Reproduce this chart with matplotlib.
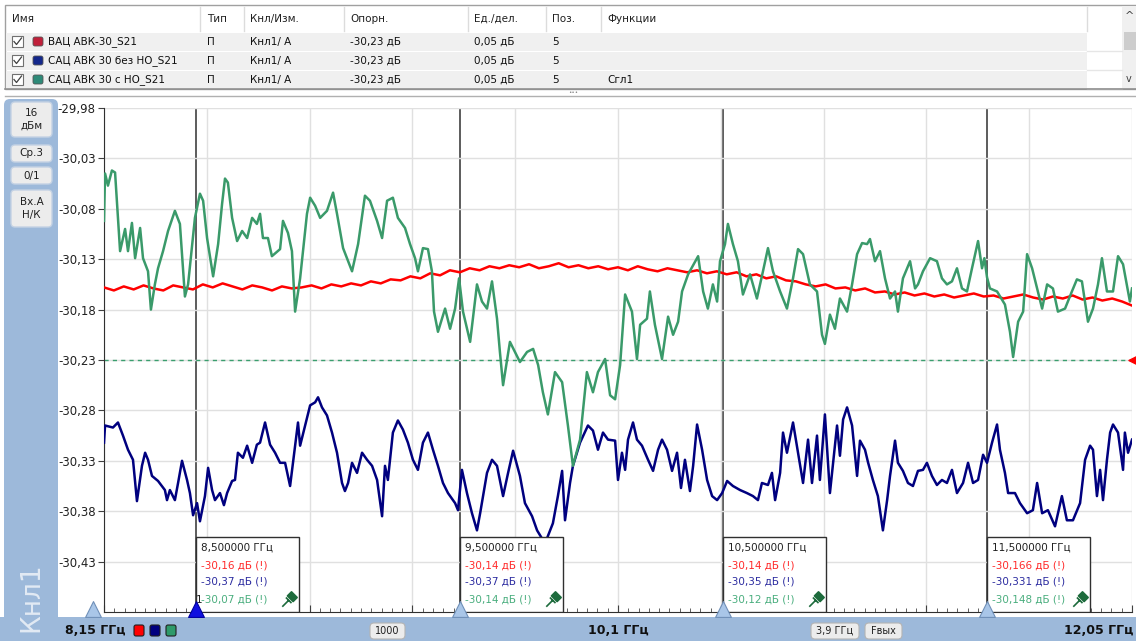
import numpy as np
import matplotlib
matplotlib.use("Agg")
import matplotlib.pyplot as plt
from matplotlib.patches import Rectangle, FancyBboxPatch
from matplotlib.path import Path
from matplotlib.transforms import offset_copy

W, H = 1136, 641

# --- данные ---
trace_names = ["ВАЦ АВК-30_S21", "САЦ АВК 30 без НО_S21", "САЦ АВК 30 с НО_S21"]
trace_funcs = ["", "", "Сгл1"]
ref_level = -30.23

# красная (ВАЦ) – равномерная сетка 8,15..12,05 ГГц
red_db = [
    -30.158, -30.161, -30.157, -30.160, -30.156, -30.159, -30.161, -30.156, -30.158, -30.160,
    -30.155, -30.158, -30.154, -30.157, -30.160, -30.156, -30.158, -30.161, -30.157, -30.159,
    -30.158, -30.156, -30.159, -30.155, -30.157, -30.154, -30.156, -30.152, -30.154, -30.150,
    -30.151, -30.147, -30.149, -30.144, -30.146, -30.141, -30.143, -30.139, -30.141, -30.137,
    -30.139, -30.136, -30.138, -30.135, -30.139, -30.137, -30.134, -30.138, -30.136, -30.139,
    -30.137, -30.140, -30.138, -30.141, -30.137, -30.140, -30.142, -30.139, -30.141, -30.143,
    -30.141, -30.144, -30.142, -30.145, -30.143, -30.147, -30.145, -30.149, -30.147, -30.151,
    -30.152, -30.155, -30.157, -30.155, -30.159, -30.158, -30.161, -30.159, -30.163, -30.162,
    -30.165, -30.163, -30.166, -30.164, -30.167, -30.165, -30.168, -30.166, -30.164, -30.167,
    -30.166, -30.169, -30.167, -30.165, -30.168, -30.170, -30.167, -30.169, -30.166, -30.170,
    -30.168, -30.171, -30.169, -30.172, -30.176,
]

# синяя (САЦ без НО)
blue_f = [
    8.150, 8.154, 8.184, 8.203, 8.222, 8.241, 8.260, 8.275, 8.294, 8.306,
    8.317, 8.332, 8.355, 8.381, 8.389, 8.400, 8.419, 8.431, 8.446, 8.465,
    8.476, 8.488, 8.503, 8.514, 8.533, 8.545, 8.560, 8.571, 8.590, 8.605,
    8.617, 8.636, 8.647, 8.658, 8.677, 8.693, 8.712, 8.730, 8.742, 8.761,
    8.780, 8.799, 8.818, 8.837, 8.856, 8.867, 8.886, 8.894, 8.913, 8.932,
    8.951, 8.962, 8.977, 8.996, 9.015, 9.034, 9.053, 9.064, 9.076, 9.091,
    9.110, 9.129, 9.148, 9.167, 9.186, 9.205, 9.216, 9.227, 9.246, 9.265,
    9.284, 9.303, 9.322, 9.341, 9.360, 9.379, 9.398, 9.417, 9.436, 9.455,
    9.482, 9.493, 9.508, 9.527, 9.546, 9.565, 9.577, 9.603, 9.622, 9.641,
    9.664, 9.683, 9.702, 9.728, 9.747, 9.774, 9.793, 9.823, 9.853, 9.872,
    9.888, 9.899, 9.918, 9.929, 9.956, 9.986, 10.005, 10.024, 10.043, 10.062,
    10.089, 10.100, 10.115, 10.127, 10.138, 10.157, 10.172, 10.191, 10.214, 10.233,
    10.252, 10.267, 10.286, 10.305, 10.324, 10.339, 10.354, 10.373, 10.385, 10.400,
    10.419, 10.438, 10.457, 10.476, 10.495, 10.514, 10.536, 10.563, 10.589, 10.612,
    10.631, 10.646, 10.669, 10.684, 10.696, 10.715, 10.726, 10.741, 10.764, 10.783,
    10.802, 10.821, 10.836, 10.855, 10.866, 10.885, 10.904, 10.931, 10.942, 10.954,
    10.969, 10.988, 11.007, 11.018, 11.037, 11.049, 11.067, 11.086, 11.105, 11.121,
    11.132, 11.151, 11.162, 11.181, 11.200, 11.219, 11.238, 11.257, 11.272, 11.291,
    11.310, 11.329, 11.348, 11.367, 11.386, 11.409, 11.428, 11.447, 11.466, 11.485,
    11.500, 11.519, 11.538, 11.549, 11.568, 11.580, 11.606, 11.625, 11.652, 11.674,
    11.690, 11.709, 11.731, 11.758, 11.784, 11.803, 11.826, 11.853, 11.872, 11.891,
    11.902, 11.917, 11.929, 11.940, 11.955, 11.967, 11.978, 11.997, 12.016, 12.023,
    12.035, 12.050,
]
blue_db = [
    -30.312, -30.295, -30.297, -30.292, -30.305, -30.319, -30.329, -30.370, -30.335, -30.322,
    -30.329, -30.345, -30.350, -30.359, -30.369, -30.359, -30.369, -30.352, -30.330, -30.349,
    -30.362, -30.384, -30.372, -30.390, -30.365, -30.337, -30.359, -30.369, -30.362, -30.374,
    -30.362, -30.350, -30.349, -30.322, -30.327, -30.315, -30.332, -30.314, -30.312, -30.292,
    -30.314, -30.322, -30.332, -30.332, -30.355, -30.332, -30.292, -30.315, -30.295, -30.275,
    -30.272, -30.267, -30.277, -30.285, -30.302, -30.322, -30.352, -30.360, -30.352, -30.332,
    -30.342, -30.322, -30.329, -30.335, -30.349, -30.385, -30.335, -30.349, -30.302, -30.290,
    -30.299, -30.312, -30.329, -30.339, -30.312, -30.302, -30.319, -30.335, -30.352, -30.362,
    -30.372, -30.379, -30.339, -30.362, -30.382, -30.399, -30.382, -30.342, -30.329, -30.335,
    -30.365, -30.342, -30.320, -30.345, -30.372, -30.385, -30.399, -30.412, -30.392, -30.365,
    -30.340, -30.389, -30.352, -30.335, -30.312, -30.295, -30.300, -30.319, -30.302, -30.309,
    -30.310, -30.349, -30.322, -30.339, -30.309, -30.292, -30.309, -30.315, -30.329, -30.340,
    -30.319, -30.309, -30.319, -30.340, -30.322, -30.357, -30.329, -30.360, -30.335, -30.294,
    -30.319, -30.349, -30.365, -30.369, -30.362, -30.350, -30.355, -30.359, -30.362, -30.365,
    -30.369, -30.352, -30.354, -30.342, -30.369, -30.342, -30.302, -30.322, -30.292, -30.322,
    -30.352, -30.309, -30.352, -30.305, -30.349, -30.284, -30.362, -30.295, -30.325, -30.289,
    -30.277, -30.295, -30.345, -30.310, -30.319, -30.332, -30.349, -30.365, -30.399, -30.369,
    -30.345, -30.310, -30.332, -30.340, -30.352, -30.355, -30.340, -30.339, -30.332, -30.345,
    -30.354, -30.349, -30.352, -30.339, -30.362, -30.352, -30.332, -30.352, -30.349, -30.324,
    -30.332, -30.312, -30.294, -30.319, -30.342, -30.362, -30.362, -30.372, -30.382, -30.379,
    -30.352, -30.382, -30.379, -30.395, -30.365, -30.389, -30.389, -30.372, -30.329, -30.315,
    -30.319, -30.365, -30.339, -30.369, -30.329, -30.302, -30.294, -30.302, -30.339, -30.302,
    -30.322, -30.309,
]

# зелёная (САЦ с НО)
green_f = [
    8.150, 8.154, 8.165, 8.180, 8.192, 8.203, 8.211, 8.230, 8.241, 8.256,
    8.268, 8.287, 8.298, 8.317, 8.328, 8.343, 8.355, 8.374, 8.393, 8.419,
    8.438, 8.457, 8.469, 8.495, 8.514, 8.526, 8.541, 8.564, 8.583, 8.598,
    8.609, 8.620, 8.636, 8.655, 8.674, 8.693, 8.712, 8.730, 8.742, 8.753,
    8.772, 8.787, 8.818, 8.829, 8.848, 8.863, 8.875, 8.894, 8.905, 8.920,
    8.932, 8.951, 8.970, 8.996, 9.019, 9.034, 9.057, 9.091, 9.114, 9.140,
    9.159, 9.186, 9.205, 9.224, 9.246, 9.265, 9.292, 9.311, 9.330, 9.341,
    9.360, 9.379, 9.394, 9.402, 9.417, 9.444, 9.463, 9.482, 9.497, 9.512,
    9.539, 9.565, 9.584, 9.603, 9.622, 9.641, 9.652, 9.664, 9.690, 9.728,
    9.755, 9.778, 9.797, 9.815, 9.834, 9.861, 9.888, 9.910, 9.929, 9.956,
    9.982, 10.005, 10.024, 10.051, 10.070, 10.089, 10.108, 10.127, 10.153, 10.172,
    10.184, 10.210, 10.221, 10.240, 10.267, 10.290, 10.309, 10.328, 10.343, 10.366,
    10.404, 10.423, 10.441, 10.460, 10.476, 10.487, 10.506, 10.517, 10.536, 10.555,
    10.574, 10.601, 10.627, 10.650, 10.669, 10.688, 10.715, 10.741, 10.764, 10.783,
    10.802, 10.828, 10.855, 10.874, 10.885, 10.904, 10.923, 10.942, 10.969, 10.988,
    11.007, 11.026, 11.045, 11.056, 11.075, 11.094, 11.113, 11.132, 11.151, 11.162,
    11.181, 11.208, 11.227, 11.238, 11.257, 11.284, 11.310, 11.329, 11.348, 11.367,
    11.386, 11.405, 11.424, 11.443, 11.466, 11.481, 11.490, 11.500, 11.511, 11.538,
    11.568, 11.587, 11.599, 11.618, 11.637, 11.652, 11.671, 11.690, 11.709, 11.728,
    11.750, 11.769, 11.796, 11.822, 11.841, 11.860, 11.883, 11.902, 11.921, 11.936,
    11.955, 11.978, 11.997, 12.016, 12.042, 12.050,
]
green_db = [
    -30.092, -30.045, -30.057, -30.042, -30.044, -30.089, -30.122, -30.100, -30.122, -30.094,
    -30.129, -30.099, -30.129, -30.142, -30.180, -30.155, -30.139, -30.122, -30.102, -30.082,
    -30.095, -30.167, -30.155, -30.089, -30.065, -30.072, -30.109, -30.147, -30.115, -30.075,
    -30.050, -30.054, -30.089, -30.112, -30.102, -30.109, -30.089, -30.095, -30.085, -30.109,
    -30.109, -30.127, -30.120, -30.092, -30.104, -30.122, -30.182, -30.149, -30.122, -30.085,
    -30.069, -30.077, -30.089, -30.082, -30.064, -30.085, -30.119, -30.142, -30.115, -30.067,
    -30.072, -30.092, -30.109, -30.072, -30.069, -30.089, -30.099, -30.115, -30.129, -30.142,
    -30.119, -30.120, -30.142, -30.182, -30.202, -30.179, -30.199, -30.179, -30.149, -30.182,
    -30.212, -30.155, -30.172, -30.179, -30.152, -30.189, -30.222, -30.255, -30.212, -30.232,
    -30.222, -30.219, -30.235, -30.262, -30.284, -30.242, -30.252, -30.295, -30.335, -30.309,
    -30.242, -30.262, -30.242, -30.229, -30.265, -30.269, -30.235, -30.165, -30.182, -30.229,
    -30.195, -30.189, -30.162, -30.195, -30.229, -30.187, -30.205, -30.192, -30.162, -30.145,
    -30.127, -30.162, -30.179, -30.155, -30.172, -30.132, -30.115, -30.095, -30.115, -30.132,
    -30.165, -30.145, -30.169, -30.142, -30.119, -30.142, -30.162, -30.179, -30.149, -30.120,
    -30.125, -30.155, -30.162, -30.205, -30.214, -30.185, -30.199, -30.169, -30.182, -30.155,
    -30.125, -30.114, -30.115, -30.110, -30.132, -30.122, -30.149, -30.169, -30.162, -30.182,
    -30.149, -30.132, -30.159, -30.155, -30.142, -30.129, -30.132, -30.149, -30.155, -30.152,
    -30.139, -30.159, -30.162, -30.139, -30.112, -30.139, -30.129, -30.148, -30.159, -30.162,
    -30.175, -30.202, -30.227, -30.192, -30.182, -30.125, -30.139, -30.159, -30.179, -30.155,
    -30.159, -30.182, -30.179, -30.162, -30.150, -30.152, -30.192, -30.179, -30.155, -30.129,
    -30.162, -30.162, -30.127, -30.135, -30.172, -30.159,
]

# маркеры
marker_f = [8.5, 9.5, 10.5, 11.5]
marker_freq_txt = ["8,500000 ГГц", "9,500000 ГГц", "10,500000 ГГц", "11,500000 ГГц"]
marker_red = ["-30,16", "-30,14", "-30,14", "-30,166"]
marker_blue = ["-30,37", "-30,37", "-30,35", "-30,331"]
marker_green = ["-30,07", "-30,14", "-30,12", "-30,148"]

RED = "#ff0000"
BLUE = "#00007f"
GREEN = "#3a9a6a"
PANEL = "#9db9da"
FONT = "DejaVu Sans"

plt.rcParams["font.family"] = [FONT]

fig = plt.figure(figsize=(W / 100, H / 100), dpi=100)
fig.patch.set_facecolor("white")

# фон в пиксельных координатах
bg = fig.add_axes([0, 0, 1, 1], zorder=0)
bg.set_xlim(0, W)
bg.set_ylim(H, 0)
bg.axis("off")

# --- таблица трасс ---
bg.add_patch(Rectangle((5, 5), 1131, 84, facecolor="white", edgecolor="#a0a0a0", lw=1))
headers = [("Имя", 12), ("Тип", 207), ("Кнл/Изм.", 250), ("Опорн.", 350),
           ("Ед./дел.", 474), ("Поз.", 552), ("Функции", 607)]
for txt, x in headers:
    bg.text(x, 19, txt, fontsize=7.5, va="center", ha="left", color="#202020")
for x in [200, 244, 344, 468, 546, 601, 1087]:
    bg.plot([x, x], [7, 31], color="#dcdcdc", lw=1)
row_colors = ["#c0203a", "#14288c", "#2e8a78"]
for i, name in enumerate(trace_names):
    y0 = 33 + i * 19
    bg.add_patch(Rectangle((6, y0), 1081, 18, facecolor="#f0f0f0", edgecolor="none"))
    bg.plot([1087, 1122], [y0 + 18, y0 + 18], color="#e6e6e6", lw=1)
    bg.add_patch(Rectangle((12, y0 + 3), 11, 11, facecolor="white", edgecolor="#707070", lw=0.8))
    bg.plot([14, 16.5, 21.5], [y0 + 8.5, y0 + 11.5, y0 + 5], color="#404040", lw=0.9)
    bg.add_patch(FancyBboxPatch((33, y0 + 4), 10, 9, boxstyle="round,pad=0,rounding_size=2",
                                facecolor=row_colors[i], edgecolor="#555555", lw=0.6))
    y = y0 + 9
    bg.text(48, y, name, fontsize=7.5, va="center", color="#101010")
    bg.text(207, y, "П", fontsize=7.5, va="center", color="#101010")
    bg.text(250, y, "Кнл1/ А", fontsize=7.5, va="center", color="#101010")
    bg.text(350, y, "-30,23 дБ", fontsize=7.5, va="center", color="#101010")
    bg.text(474, y, "0,05 дБ", fontsize=7.5, va="center", color="#101010")
    bg.text(552, y, "5", fontsize=7.5, va="center", color="#101010")
    bg.text(607, y, trace_funcs[i], fontsize=7.5, va="center", color="#101010")
# полоса прокрутки
bg.add_patch(Rectangle((1122, 6), 14, 82, facecolor="#f0f0f0", edgecolor="none"))
bg.add_patch(Rectangle((1124, 32), 12, 18, facecolor="#cdcdcd", edgecolor="none"))
bg.text(1129, 16, "^", fontsize=8, ha="center", va="center", color="#404040")
bg.text(1129, 79, "v", fontsize=7, ha="center", va="center", color="#404040")
bg.plot([5, W], [89, 89], color="#909090", lw=1.2)
bg.plot([5, W], [96, 96], color="#b0b0b0", lw=1)
bg.text(573, 92.5, "•••", fontsize=4, ha="center", va="center", color="#808080")

# --- панель канала ---
bg.add_patch(FancyBboxPatch((4, 99), 54, 560, boxstyle="round,pad=0,rounding_size=6",
                            facecolor=PANEL, edgecolor="none"))
bg.add_patch(Rectangle((0, 617), W, 24, facecolor=PANEL, edgecolor="none"))
bg.add_patch(Rectangle((60, 98), W - 60, 519, facecolor="white", edgecolor="none"))

buttons = [(102, 35, "16\nдБм"), (145, 17, "Ср.3"), (167, 17, "0/1"), (190, 37, "Вх.А\nН/К")]
for y0, h, txt in buttons:
    bg.add_patch(FancyBboxPatch((11, y0), 41, h, boxstyle="round,pad=0,rounding_size=4",
                                facecolor="#ececec", edgecolor="#c4d2e4", lw=1))
    bg.text(31.5, y0 + h / 2, txt, fontsize=7.5, ha="center", va="center",
            color="#202020", linespacing=1.4)
bg.text(31, 597, "Кнл1", rotation=90, fontsize=19, ha="center", va="center", color="#e2eaf4")

# --- нижняя строка ---
bg.text(65, 631, "8,15 ГГц", fontsize=9, fontweight="bold", va="center", color="#101010")
for k, c in enumerate([RED, BLUE, "#2e9a6a"]):
    bg.add_patch(FancyBboxPatch((134 + k * 16, 625), 10, 11, boxstyle="round,pad=0,rounding_size=2",
                                facecolor=c, edgecolor="#202020", lw=0.8))
bg.text(618, 631, "10,1 ГГц", fontsize=9, fontweight="bold", ha="center", va="center", color="#101010")
bg.text(1133, 631, "12,05 ГГц", fontsize=9, fontweight="bold", ha="right", va="center", color="#101010")
for x0, w, txt in [(370, 35, "1000"), (811, 48, "3,9 ГГц"), (865, 37, "Fвых")]:
    bg.add_patch(FancyBboxPatch((x0, 623), w, 16, boxstyle="round,pad=0,rounding_size=4",
                                facecolor="#ececec", edgecolor="#b4b4b4", lw=0.8))
    bg.text(x0 + w / 2, 631, txt, fontsize=7, ha="center", va="center", color="#202020")
bg.scatter([93], [609], marker="^", s=130, facecolor="#a9c6e8", edgecolor="#7090b8", lw=0.8, zorder=5)

# --- график ---
ax = fig.add_axes([104 / W, (H - 612) / H, 1028 / W, 504 / H], zorder=2)
ax.patch.set_alpha(0)
x0, x1 = 8.15, 12.05
y0, y1 = -30.48, -29.98
ax.set_xlim(x0, x1)
ax.set_ylim(y0, y1)

xdiv = np.linspace(x0, x1, 11)
ydiv = np.linspace(y0, y1, 11)
ax.set_xticks(xdiv)
ax.set_xticks(np.linspace(x0, x1, 101), minor=True)
ax.set_yticks(ydiv[1:])
ax.set_yticklabels([f"{v:.2f}".replace(".", ",") for v in ydiv[1:]])
ax.set_xticklabels([])
ax.grid(True, which="major", color="#e0e0e0", lw=1)
ax.tick_params(axis="y", direction="out", length=4, width=0.8, color="#404040",
               labelsize=8.5, pad=2, labelcolor="#202020")
ax.tick_params(axis="x", which="major", direction="in", length=5, width=0.8, color="#404040")
ax.tick_params(axis="x", which="minor", direction="in", length=3, width=0.7, color="#606060")
for s in ["top", "right"]:
    ax.spines[s].set_visible(False)
ax.spines["left"].set_color("#303030")
ax.spines["bottom"].set_color("#303030")

for f in marker_f:
    ax.axvline(f, color="#303030", lw=1.1, zorder=1.5)
ax.axhline(ref_level, color="#3a9e6e", lw=1, ls=(0, (3, 3)), zorder=1.6)

red_f = np.linspace(x0, x1, len(red_db))
ax.plot(red_f, red_db, color=RED, lw=1.8, zorder=3)
ax.plot(blue_f, blue_db, color=BLUE, lw=1.8, zorder=3)
ax.plot(green_f, green_db, color=GREEN, lw=1.8, zorder=3)

# треугольник опорного уровня
ax.scatter([x1], [ref_level], marker="<", s=90, color=RED, clip_on=False, zorder=6,
           transform=offset_copy(ax.transData, fig=fig, x=3, y=0, units="dots"))

# маркеры
pin = Path([(-0.9, -0.9), (-0.05, -0.05),
            (-0.45, 0.25), (0.25, -0.45),
            (0.1, 0.1), (0.45, -0.25), (0.95, 0.25), (0.25, 0.95), (-0.25, 0.45), (0.1, 0.1)],
           [Path.MOVETO, Path.LINETO, Path.MOVETO, Path.LINETO,
            Path.MOVETO, Path.LINETO, Path.LINETO, Path.LINETO, Path.LINETO, Path.CLOSEPOLY])
box_w = (x1 - x0) / 10
box_h = (y1 - y0) * 75 / 504
for i, f in enumerate(marker_f):
    ax.add_patch(Rectangle((f, y0), box_w, box_h, facecolor="white", edgecolor="#303030",
                           lw=1, zorder=7))
    lines = [(marker_freq_txt[i], "#202020", 64), (marker_red[i] + " дБ (!)", "#ff2a2a", 47),
             (marker_blue[i] + " дБ (!)", "#2c2ca0", 30), (marker_green[i] + " дБ (!)", "#4aae7e", 12)]
    for txt, col, dy in lines:
        ax.text(f, y0, txt, fontsize=7.5, color=col, ha="left", va="center", zorder=8,
                transform=offset_copy(ax.transData, fig=fig, x=5, y=dy, units="dots"))
    ax.plot([f + box_w], [y0], marker=pin, ms=11, color="#1d6b3c", mew=1.2, zorder=8,
            transform=offset_copy(ax.transData, fig=fig, x=-10, y=13, units="dots"))
    face = "#1010e0" if i == 0 else "#a9c6e8"
    edge = "#0000a0" if i == 0 else "#7090b8"
    ax.scatter([f], [y0], marker="^", s=130, facecolor=face, edgecolor=edge, lw=0.8,
               clip_on=False, zorder=9,
               transform=offset_copy(ax.transData, fig=fig, x=0, y=3, units="dots"))
ax.text(marker_f[0], y0, "1", fontsize=7.5, color="#202020", ha="left", va="center", zorder=8,
        transform=offset_copy(ax.transData, fig=fig, x=0, y=12, units="dots"))

fig.savefig("out.png", dpi=100)
